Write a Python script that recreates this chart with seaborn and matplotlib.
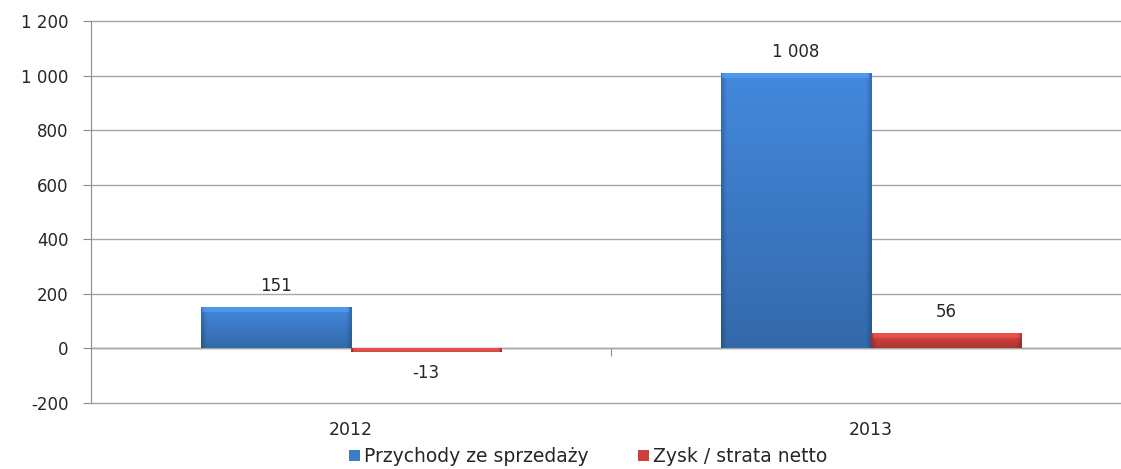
import numpy as np
import pandas as pd
import matplotlib
matplotlib.use("Agg")
import matplotlib.pyplot as plt
import seaborn as sns
from matplotlib.colors import to_rgb
from matplotlib.patches import Patch

years = ["2012", "2013"]
series_names = ["Przychody ze sprzedaży", "Zysk / strata netto"]
przychody = [151, 1008]
zysk = [-13, 56]
y_ticks = [-200, 0, 200, 400, 600, 800, 1000, 1200]

colors = {"Przychody ze sprzedaży": "#3d7cc9", "Zysk / strata netto": "#cc403c"}

df = pd.DataFrame({
    "rok": years * 2,
    "seria": [series_names[0]] * 2 + [series_names[1]] * 2,
    "wartosc": przychody + zysk,
})

sns.set_style("white")
plt.rcParams["font.family"] = ["DejaVu Sans"]

W, H = 1121, 469
fig = plt.figure(figsize=(W / 100, H / 100), dpi=100)
ax = fig.add_axes([91 / W, 66 / H, 1030 / W, 382 / H])
px_per_unit = 382 / 1400

sns.barplot(data=df, x="rok", y="wartosc", hue="seria", hue_order=series_names,
            palette=colors, width=0.577, gap=0, ax=ax, legend=False,
            saturation=1, edgecolor="none", zorder=3)


def fmt(v):
    return f"{v:,}".replace(",", " ")


# gradient shading on each bar, clipped to the bar shape
bars = list(ax.patches)
for patch in bars:
    base = np.array(to_rgb(patch.get_facecolor()))
    x0 = patch.get_x()
    w = patch.get_width()
    y0 = patch.get_y()
    h = patch.get_height()
    ylo, yhi = min(y0, y0 + h), max(y0, y0 + h)
    ny, nx = 80, 60
    ty = np.linspace(0, 1, ny)[:, None]          # 0 = top, 1 = bottom
    tx = np.linspace(0, 1, nx)[None, :]
    vert = 1.10 - 0.25 * ty
    edge = 1 - 0.18 * (np.clip(1 - tx / 0.03, 0, 1) + np.clip(1 - (1 - tx) / 0.03, 0, 1))
    fac = vert * edge
    img = np.clip(base[None, None, :] * fac[:, :, None], 0, 1)
    im = ax.imshow(img, extent=[x0, x0 + w, ylo, yhi], aspect="auto",
                   origin="upper", zorder=3.5, interpolation="bilinear")
    im.set_clip_path(patch)
    # light bevel along the top edge
    bev_h = min(abs(h), 5 / px_per_unit)
    bev = np.clip(base * 1.25 + 0.05, 0, 1)
    ax.fill_between([x0 + w * 0.01, x0 + w * 0.99], yhi - bev_h, yhi,
                    color=bev, alpha=0.5, lw=0, zorder=3.6)

# value labels
off = 21 / px_per_unit
for patch, val in zip(bars, przychody + zysk):
    cx = patch.get_x() + patch.get_width() / 2
    top = patch.get_y() + patch.get_height()
    ty = top + off if val >= 0 else top - off
    ax.text(cx, ty, fmt(val), ha="center", va="center", fontsize=12, color="#262626", zorder=5)

ax.set_ylim(-200, 1200)
ax.set_xlim(-0.5, -0.5 + 1030 / 520)
ax.set_yticks(y_ticks)
ax.set_yticklabels([fmt(v) for v in y_ticks], fontsize=12, color="#262626")
ax.yaxis.grid(True, color="#a6a6a6", lw=1, zorder=0)
for gl in ax.get_ygridlines():
    gl.set_clip_on(False)
ax.set_axisbelow(True)
ax.tick_params(axis="y", length=6, color="#8c8c8c", left=True, pad=10)
ax.tick_params(axis="x", length=0, labelsize=12.5, labelcolor="#262626", pad=13)
ax.set_xlabel("")
ax.set_ylabel("")
for s in ["top", "right", "bottom"]:
    ax.spines[s].set_visible(False)
ax.spines["left"].set_color("#8c8c8c")

# category axis crossing at zero
zero_axis = ax.secondary_xaxis(200 / 1400)
zero_axis.set_xticks([0.5])
zero_axis.set_xticklabels([])
zero_axis.tick_params(length=6, color="#8c8c8c", direction="out")
zero_axis.spines["bottom"].set_color("#8c8c8c")
zero_axis.spines["bottom"].set_linewidth(1)

handles = [Patch(facecolor=colors[n], edgecolor="none") for n in series_names]
fig.legend(handles, series_names, loc="lower center", bbox_to_anchor=(588 / W, -0.03),
           ncol=2, frameon=False, fontsize=13.5, handlelength=0.6, handleheight=0.45,
           handletextpad=0.2, columnspacing=2.6, labelcolor="#262626")

fig.savefig("out.png", dpi=100, facecolor="white")
